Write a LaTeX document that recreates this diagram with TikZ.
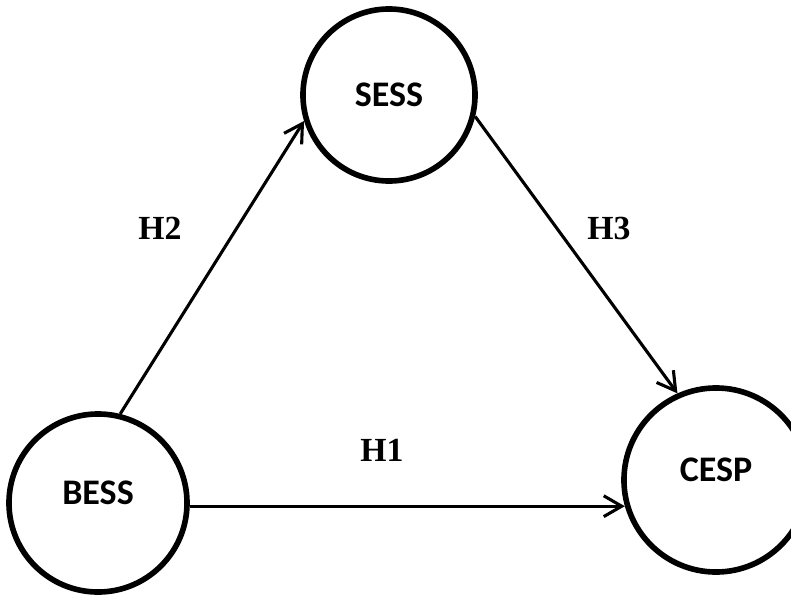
\documentclass[tikz,border=0pt]{standalone}
\usepackage{fontspec}
\newfontfamily\circfont{Carlito}
\newfontfamily\hypfont{Liberation Serif}
\usetikzlibrary{arrows.meta}

\begin{document}
\begin{tikzpicture}[x=0.025cm,y=-0.025cm,>={Straight Barb[length=0.45cm,width=0.52cm]},
    construct/.style={draw,circle,line width=4pt,inner sep=0pt,
        font=\circfont\bfseries\fontsize{25.6}{30}\selectfont},
    hyp/.style={font=\hypfont\bfseries\fontsize{24}{28}\selectfont},
    link/.style={->,line width=2.2pt}]
    \useasboundingbox (0,0) rectangle (791,599);

    \node[construct,minimum size=4.3cm] (sess) at (389,95) {SESS};
    \node[construct,minimum size=4.45cm,text depth=0.5cm] (bess) at (98,503) {BESS};
    \node[construct,minimum size=4.6cm,text depth=0.5cm] (cesp) at (716,480) {CESP};

    \node[hyp] (h1) at (382,450) {H1};
    \node[hyp] (h2) at (160,228) {H2};
    \node[hyp] (h3) at (609,228) {H3};

    \draw[link] (bess.76) -- (sess.197);
    \draw[link] (sess.-14) -- (cesp.114);
    \draw[link] (bess.-2) -- (bess.-2 -| cesp.196);
\end{tikzpicture}
\end{document}
